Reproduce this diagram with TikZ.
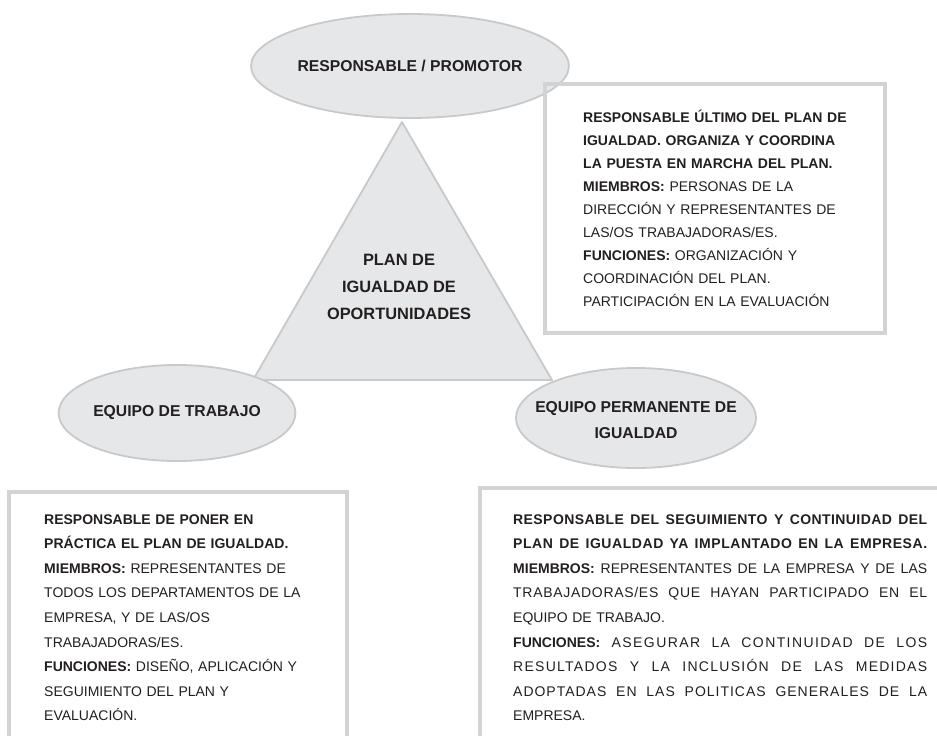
\documentclass[tikz,border=0pt]{standalone}
\usepackage{fontspec}
\setmainfont{Liberation Sans}
\usetikzlibrary{shapes.geometric}
\definecolor{fillg}{RGB}{230,231,232}
\definecolor{edgeg}{RGB}{200,201,203}
\definecolor{boxg}{RGB}{209,211,212}
\definecolor{ink}{RGB}{35,31,32}
\newcommand{\jline}[1]{\leavevmode\hbox to 414pt{\spaceskip=3.9pt plus 1fil minus 1.5pt\relax\xspaceskip=3.9pt plus 1fil minus 1.5pt\relax #1}}
\newcommand{\spaced}[2]{{\addfontfeature{LetterSpace=#1}#2}}
\begin{document}
\begin{tikzpicture}[x=1pt,y=-1pt,
  oval/.style={ellipse, fill=fillg, draw=edgeg, line width=1.8pt, inner sep=0pt,
    font=\fontsize{15.7}{26}\selectfont\bfseries, text=ink, align=center},
  frame/.style={draw=boxg, line width=3.5pt},
  body/.style={anchor=base west, inner sep=0pt, text=ink, align=left},
]
\useasboundingbox (0,0) rectangle (937,736);
\fill[white] (0,0) rectangle (937,736);

% triangle
\coordinate (apex) at (402,122);
\coordinate (bl) at (253,380);
\coordinate (br) at (552,380);
\filldraw[fill=fillg, draw=edgeg, line width=1.8pt, line join=round] (apex) -- (bl) -- (br) -- cycle;
\node[text=ink, align=center, font=\fontsize{16.4}{27}\selectfont\bfseries] (plan) at (399,287)
  {PLAN DE\\IGUALDAD DE\\OPORTUNIDADES};

% ellipses
\node[oval, minimum width=256pt, minimum height=104pt] (resp) at (410,66) {RESPONSABLE / PROMOTOR};
\node[oval, minimum width=206pt, minimum height=96pt] (equipo) at (177,413) {EQUIPO DE TRABAJO};
\node[oval, minimum width=240pt, minimum height=100pt] (perm) at (636,418) {};
\node[text=ink, align=center, font=\fontsize{15.7}{26}\selectfont\bfseries] (permtext) at (636,420)
  {EQUIPO PERMANENTE DE\\IGUALDAD};

% top right box
\draw[frame] (545,84) rectangle (885,333);
\node[body, text width=300pt, font=\fontsize{14}{23}\selectfont] (trtext) at (583,122)
  {\textbf{RESPONSABLE ÚLTIMO DEL PLAN DE}\\
   \textbf{IGUALDAD. ORGANIZA Y COORDINA}\\
   \textbf{LA PUESTA EN MARCHA DEL PLAN.}\\
   \textbf{MIEMBROS:} PERSONAS DE LA\\
   DIRECCIÓN Y REPRESENTANTES DE\\
   LAS/OS TRABAJADORAS/ES.\\
   \textbf{FUNCIONES:} ORGANIZACIÓN Y\\
   COORDINACIÓN DEL PLAN.\\
   PARTICIPACIÓN EN LA EVALUACIÓN};

% bottom left box
\draw[frame] (9,745) |- (347,492) -- (347,745);
\node[body, text width=300pt, font=\fontsize{14}{24.6}\selectfont] (bltext) at (44,524)
  {\textbf{RESPONSABLE DE PONER EN}\\
   \textbf{PRÁCTICA EL PLAN DE IGUALDAD.}\\
   \textbf{MIEMBROS:} REPRESENTANTES DE\\
   TODOS LOS DEPARTAMENTOS DE LA\\
   EMPRESA, Y DE LAS/OS\\
   TRABAJADORAS/ES.\\
   \textbf{FUNCIONES:} DISEÑO, APLICACIÓN Y\\
   SEGUIMIENTO DEL PLAN Y\\
   EVALUACIÓN.};

% bottom right box
\draw[frame] (480,745) |- (945,488);
\node[body, text width=414pt, font=\fontsize{14}{24.6}\selectfont] (brtext) at (513,524)
  {\jline{\bfseries\spaced{3}{RESPONSABLE DEL SEGUIMIENTO Y CONTINUIDAD DEL}}\\
   \jline{\bfseries\spaced{4}{PLAN DE IGUALDAD YA IMPLANTADO EN LA EMPRESA.}}\\
   \jline{\textbf{MIEMBROS:} REPRESENTANTES DE LA EMPRESA Y DE LAS}\\
   \jline{\spaced{5}{TRABAJADORAS/ES QUE HAYAN PARTICIPADO EN EL}}\\
   EQUIPO DE TRABAJO.\\
   \jline{\textbf{FUNCIONES:} \spaced{10}{ASEGURAR LA CONTINUIDAD DE LOS}}\\
   \jline{\spaced{9}{RESULTADOS Y LA INCLUSIÓN DE LAS MEDIDAS}}\\
   \jline{\spaced{7}{ADOPTADAS EN LAS POLITICAS GENERALES DE LA}}\\
   EMPRESA.};
\end{tikzpicture}
\end{document}
